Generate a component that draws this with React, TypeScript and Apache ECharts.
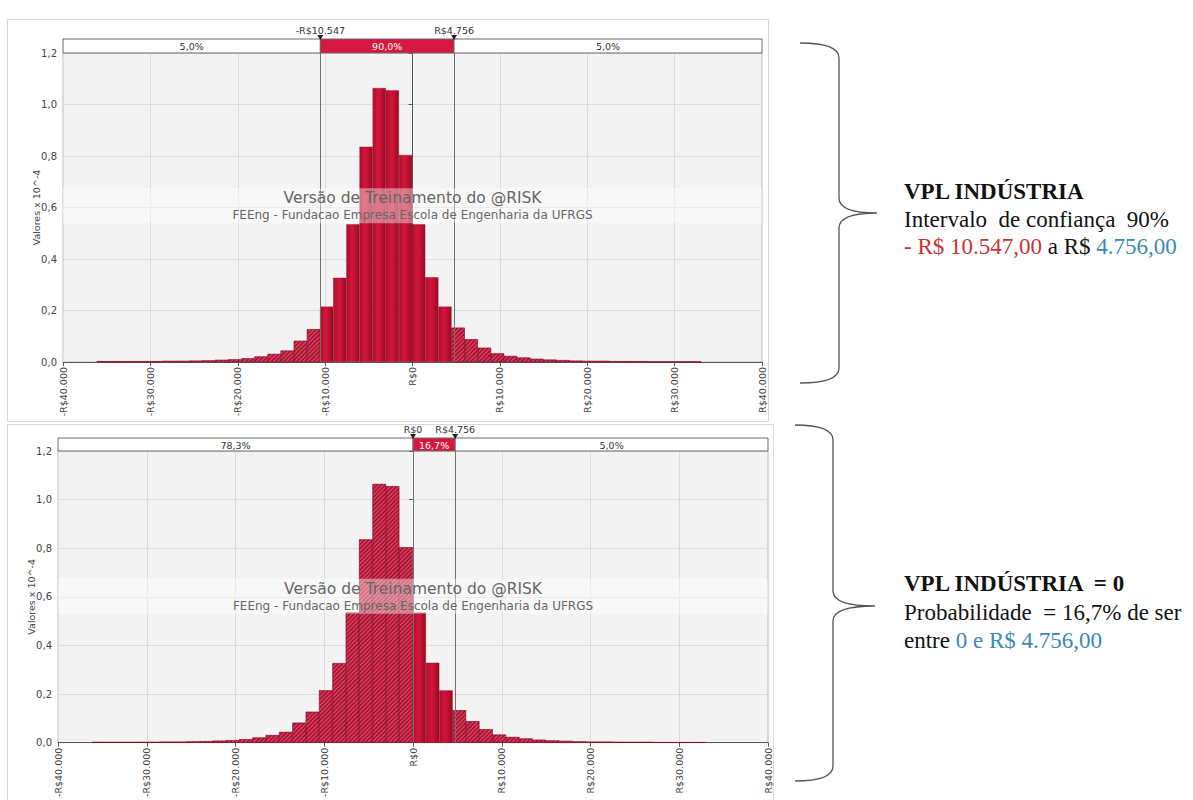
import React, { useEffect, useRef } from "react";
import * as echarts from "echarts";

// ---------- data ----------
const BIN_START = -36143;
const BIN_WIDTH = 1504;
// density heights (x 10^-4) of the 46 simulation bins
const binHeights = [
  0.003, 0.003, 0.003, 0.003, 0.003, 0.004, 0.004, 0.005, 0.006, 0.008,
  0.010, 0.014, 0.021, 0.031, 0.044, 0.082, 0.127,
  0.215, 0.327, 0.535, 0.836, 1.064, 1.055, 0.804, 0.535, 0.329, 0.215,
  0.133, 0.088, 0.055, 0.033, 0.023, 0.017, 0.012, 0.009, 0.007, 0.005,
  0.004, 0.004, 0.003, 0.003, 0.003, 0.002, 0.002, 0.002, 0.002,
];
const xTicks = [-40000, -30000, -20000, -10000, 0, 10000, 20000, 30000, 40000];
const yTicks = [0, 0.2, 0.4, 0.6, 0.8, 1.0, 1.2];

const topMarkers = [-10547, 4756];
const topMarkerLabels = ["-R$10.547", "R$4.756"];
const topBandLabels = ["5,0%", "90,0%", "5,0%"];

const bottomMarkers = [0, 4756];
const bottomMarkerLabels = ["R$0", "R$4.756"];
const bottomBandLabels = ["78,3%", "16,7%", "5,0%"];

const X_MIN = xTicks[0];
const X_MAX = xTicks[xTicks.length - 1];

// ---------- layout ----------
const TOP_PLOT = { left: 63, top: 53, width: 699, height: 309 };
const TOP_BAND = { left: 63, top: 39, width: 699, height: 14 };
const BOT_PLOT = { left: 58, top: 451, width: 710, height: 293 };
const BOT_BAND = { left: 58, top: 438, width: 710, height: 13 };

const SMALL_FONT = "DejaVu Sans";
const SERIF = "Liberation Serif";
const RED_BAND = "#d6173f";
const TXT_RED = "#c93434";
const TXT_BLUE = "#3a89b8";
const SERIF_SIZE = 23;

const fmtMoney = (v: number) => {
  const abs = Math.abs(v);
  const s = abs.toFixed(0).replace(/\B(?=(\d{3})+(?!\d))/g, ".");
  return (v < 0 ? "-" : "") + "R$" + s;
};

const solidColor = () =>
  new echarts.graphic.LinearGradient(0, 0, 1, 0, [
    { offset: 0, color: "#b30d2c" },
    { offset: 0.45, color: "#d3163b" },
    { offset: 1, color: "#9a0a24" },
  ]);

function buildChart(
  gi: number,
  plot: any,
  band: any,
  markers: number[],
  markerLabels: string[],
  bandLabels: string[]
) {
  const xAxisIdx = gi * 2;
  const barW = (plot.width * BIN_WIDTH) / (X_MAX - X_MIN);
  const solid: any[] = [];
  const hatched: any[] = [];
  binHeights.forEach((h, k) => {
    const c = BIN_START + (k + 0.5) * BIN_WIDTH;
    if (c > markers[0] && c < markers[1]) solid.push([c, h]);
    else hatched.push([c, h]);
  });

  const grids = [
    {
      left: plot.left,
      top: plot.top,
      width: plot.width,
      height: plot.height,
      show: true,
      backgroundColor: "#f3f3f3",
      borderColor: "#bdbdbd",
      borderWidth: 1,
    },
    { left: band.left, top: band.top, width: band.width, height: band.height },
  ];

  const xAxes = [
    {
      type: "value",
      gridIndex: gi * 2,
      min: X_MIN,
      max: X_MAX,
      interval: 10000,
      axisLine: { show: true, onZero: false, lineStyle: { color: "#555" } },
      axisTick: { show: true, length: 4, lineStyle: { color: "#555" } },
      splitLine: { show: true, lineStyle: { color: "#dcdcdc" } },
      axisLabel: {
        rotate: 90,
        margin: 5,
        color: "#444",
        fontFamily: SMALL_FONT,
        fontSize: 9.5,
        formatter: (v: number) => fmtMoney(v),
      },
    },
    {
      type: "value",
      gridIndex: gi * 2 + 1,
      min: X_MIN,
      max: X_MAX,
      show: false,
    },
  ];

  const yAxes = [
    {
      type: "value",
      gridIndex: gi * 2,
      min: yTicks[0],
      max: yTicks[yTicks.length - 1],
      interval: 0.2,
      name: "Valores x 10^-4",
      nameLocation: "middle",
      nameGap: 22,
      nameMoveOverlap: false,
      nameTextStyle: { fontFamily: SMALL_FONT, fontSize: 9.5, color: "#444" },
      axisLine: { show: true, lineStyle: { color: "#555" } },
      axisTick: { show: true, length: 4, lineStyle: { color: "#555" } },
      splitLine: { show: true, lineStyle: { color: "#dcdcdc" } },
      axisLabel: {
        color: "#444",
        fontFamily: SMALL_FONT,
        fontSize: 10,
        margin: 6,
        formatter: (v: number) => v.toFixed(1).replace(".", ","),
      },
    },
    { type: "value", gridIndex: gi * 2 + 1, min: 0, max: 1, show: false },
  ];

  const segments = [
    [X_MIN, markers[0]],
    [markers[0], markers[1]],
    [markers[1], X_MAX],
  ];

  const series = [
    {
      type: "bar",
      xAxisIndex: xAxisIdx,
      yAxisIndex: xAxisIdx,
      barWidth: barW,
      barGap: "-100%",
      data: hatched,
      itemStyle: {
        color: "#dc3556",
        borderColor: "#8c0b25",
        borderWidth: 0.4,
        decal: {
          symbol: "rect",
          symbolSize: 1,
          dashArrayX: [1, 0],
          dashArrayY: [1, 1.6],
          rotation: -Math.PI / 4,
          color: "rgba(95,0,22,0.75)",
        },
      },
      markLine: {
        silent: true,
        symbol: "none",
        label: { show: false },
        lineStyle: { color: "#6f6f6f", width: 1, type: "solid" },
        data: markers.map((m) => ({ xAxis: m })),
        z: 5,
      },
    },
    {
      type: "bar",
      xAxisIndex: xAxisIdx,
      yAxisIndex: xAxisIdx,
      barWidth: barW,
      barGap: "-100%",
      data: solid,
      itemStyle: {
        color: solidColor(),
        borderColor: "#8a0920",
        borderWidth: 0.4,
      },
    },
    {
      type: "custom",
      xAxisIndex: xAxisIdx + 1,
      yAxisIndex: xAxisIdx + 1,
      data: segments,
      encode: { x: [0, 1] },
      renderItem: (params: any, api: any) => {
        const s = api.coord([api.value(0), 1]);
        const e = api.coord([api.value(1), 0]);
        const red = params.dataIndex === 1;
        return {
          type: "group",
          children: [
            {
              type: "rect",
              shape: { x: s[0], y: s[1], width: e[0] - s[0], height: e[1] - s[1] },
              style: { fill: red ? RED_BAND : "#ffffff", stroke: "#6a6a6a", lineWidth: 1 },
            },
            {
              type: "text",
              x: (s[0] + e[0]) / 2,
              y: (s[1] + e[1]) / 2 + 0.5,
              style: {
                text: bandLabels[params.dataIndex],
                fill: red ? "#ffffff" : "#333333",
                fontFamily: SMALL_FONT,
                fontSize: 9.5,
                align: "center",
                verticalAlign: "middle",
              },
            },
          ],
        };
      },
    },
    {
      type: "custom",
      xAxisIndex: xAxisIdx + 1,
      yAxisIndex: xAxisIdx + 1,
      data: markers.map((m) => [m, 1]),
      encode: { x: 0, y: 1 },
      z: 10,
      renderItem: (params: any, api: any) => {
        const p = api.coord([api.value(0), 1]);
        return {
          type: "group",
          children: [
            {
              type: "polygon",
              shape: { points: [[p[0] - 3, p[1] - 4], [p[0] + 3, p[1] - 4], [p[0], p[1] + 1]] },
              style: { fill: "#222" },
            },
            {
              type: "text",
              x: p[0],
              y: p[1] - 4,
              style: {
                text: markerLabels[params.dataIndex],
                fill: "#333",
                fontFamily: SMALL_FONT,
                fontSize: 9.5,
                align: "center",
                verticalAlign: "bottom",
              },
            },
          ],
        };
      },
    },
  ];

  const cx = plot.left + plot.width / 2;
  const wy = plot.top + plot.height * 0.47;
  const graphics = [
    {
      type: "rect",
      shape: { x: plot.left, y: wy - 10, width: plot.width, height: 35 },
      style: { fill: "rgba(255,255,255,0.42)" },
      z: 50,
      silent: true,
    },
    {
      type: "text",
      x: cx,
      y: wy,
      style: {
        text: "Versão de Treinamento do @RISK",
        fill: "#666",
        fontFamily: SMALL_FONT,
        fontSize: 15.5,
        align: "center",
        verticalAlign: "middle",
      },
      z: 51,
    },
    {
      type: "text",
      x: cx,
      y: wy + 17,
      style: {
        text: "FEEng - Fundacao Empresa Escola de Engenharia da UFRGS",
        fill: "#666",
        fontFamily: SMALL_FONT,
        fontSize: 12,
        align: "center",
        verticalAlign: "middle",
      },
      z: 51,
    },
  ];

  return { grids, xAxes, yAxes, series, graphics };
}

export default function App() {
  const ref = useRef<HTMLDivElement>(null);

  useEffect(() => {
    if (!ref.current) return;
    echarts.graphic.registerShape(
      "braceTop",
      echarts.graphic.extendPath(
        "M800 43 Q839 43 839 58 L839 198 Q839 213 877 213 Q839 213 839 228 L839 368 Q839 383 800 383",
        {}
      )
    );
    echarts.graphic.registerShape(
      "braceBottom",
      echarts.graphic.extendPath(
        "M795 425 Q833 425 833 440 L833 591 Q833 606 875 606 Q833 606 833 621 L833 766 Q833 781 795 781",
        {}
      )
    );

    const chart = echarts.init(ref.current, undefined, { renderer: "svg" });
    const a = buildChart(0, TOP_PLOT, TOP_BAND, topMarkers, topMarkerLabels, topBandLabels);
    const b = buildChart(1, BOT_PLOT, BOT_BAND, bottomMarkers, bottomMarkerLabels, bottomBandLabels);

    const frames = [
      {
        type: "rect",
        shape: { x: 7.5, y: 19.5, width: 761, height: 402 },
        style: { fill: "none", stroke: "#d9d9d9", lineWidth: 1 },
        z: -10,
      },
      {
        type: "rect",
        shape: { x: 7.5, y: 424.5, width: 766, height: 380 },
        style: { fill: "none", stroke: "#d9d9d9", lineWidth: 1 },
        z: -10,
      },
    ];

    const braceStyle = { fill: "none", stroke: "#555", lineWidth: 1.3 };
    const base = { fontFamily: SERIF, fontSize: SERIF_SIZE };
    const rightTexts = [
      { type: "braceTop", x: 0, y: 0, scaleX: 1, scaleY: 1, style: braceStyle },
      { type: "braceBottom", x: 0, y: 0, scaleX: 1, scaleY: 1, style: braceStyle },
      {
        type: "text",
        x: 904,
        y: 191,
        style: {
          ...base,
          text: "VPL INDÚSTRIA",
          fontWeight: "bold",
          fill: "#111",
          verticalAlign: "middle",
        },
      },
      {
        type: "text",
        x: 904,
        y: 219,
        style: {
          ...base,
          text: "Intervalo  de confiança  90%",
          fill: "#111",
          verticalAlign: "middle",
        },
      },
      {
        type: "text",
        x: 904,
        y: 246,
        style: {
          text: "{r|- R$ 10.547,00}{k| a R$ }{b|4.756,00}",
          verticalAlign: "middle",
          rich: {
            r: { ...base, fill: TXT_RED, color: TXT_RED },
            k: { ...base, fill: "#111", color: "#111" },
            b: { ...base, fill: TXT_BLUE, color: TXT_BLUE },
          },
        },
      },
      {
        type: "text",
        x: 904,
        y: 583,
        style: {
          ...base,
          text: "VPL INDÚSTRIA  = 0",
          fontWeight: "bold",
          fill: "#111",
          verticalAlign: "middle",
        },
      },
      {
        type: "text",
        x: 904,
        y: 612,
        style: {
          ...base,
          text: "Probabilidade  = 16,7% de ser",
          fill: "#111",
          verticalAlign: "middle",
        },
      },
      {
        type: "text",
        x: 904,
        y: 640,
        style: {
          text: "{k|entre }{b|0 e R$ 4.756,00}",
          verticalAlign: "middle",
          rich: {
            k: { ...base, fill: "#111", color: "#111" },
            b: { ...base, fill: TXT_BLUE, color: TXT_BLUE },
          },
        },
      },
    ];

    chart.setOption({
      animation: false,
      backgroundColor: "#ffffff",
      grid: [...a.grids, ...b.grids],
      xAxis: [...a.xAxes, ...b.xAxes],
      yAxis: [...a.yAxes, ...b.yAxes],
      series: [...a.series, ...b.series],
      graphic: [...frames, ...a.graphics, ...b.graphics, ...rightTexts],
    });

    return () => chart.dispose();
  }, []);

  return (
    <div
      ref={ref}
      style={{ position: "absolute", left: 0, top: 0, width: 1193, height: 800 }}
    />
  );
}
